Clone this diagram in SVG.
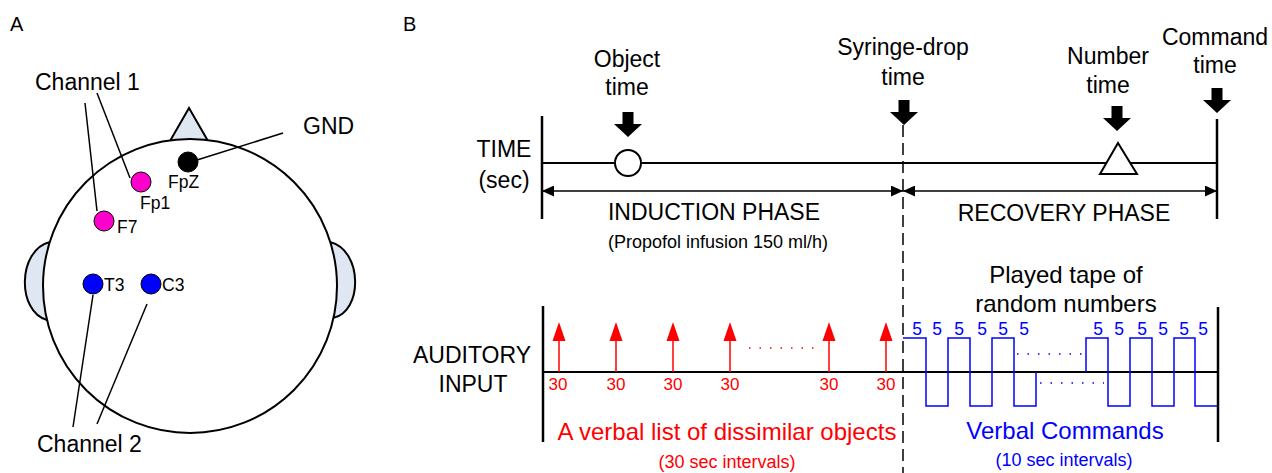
<svg xmlns="http://www.w3.org/2000/svg" width="1272" height="473" viewBox="0 0 1272 473">
<style>
text{font-family:"Liberation Sans",Arial,sans-serif;fill:#000}
.big{font-size:23px}
.big24{font-size:24px}
.sm{font-size:18px}
.n30{font-size:17px}
.lbl{font-size:17.5px}
.mid{text-anchor:middle}
.red{fill:#ff0000}
.blue{fill:#0000ff}
.ln{stroke:#000;fill:none}
.bar{stroke:#000;stroke-width:2.5;fill:none}
.ear{fill:#dfe7f3;stroke:#000;stroke-width:2}
</style>
<defs>
<path id="down" d="M-5.5,0 H5.5 V12 H14 L0,25 L-14,12 H-5.5 Z" fill="#000"/>
<marker id="ah" viewBox="0 0 12 11" refX="12" refY="5.5" markerWidth="12" markerHeight="11" markerUnits="userSpaceOnUse" orient="auto-start-reverse">
<path d="M0,0 L12,5.5 L0,11 Z" fill="#000"/>
</marker>
<g id="redarrow">
<line x1="0" y1="0" x2="0" y2="-32" stroke="#ff0000" stroke-width="1.5"/>
<polygon points="0,-50 6.5,-31 -6.5,-31" fill="#ff0000"/>
</g>
</defs>
<rect width="1272" height="473" fill="#fff"/>

<text x="10" y="31" style="font-size:20px">A</text>
<text x="403" y="31" style="font-size:20px">B</text>

<!-- Panel A: head -->
<g id="head">
<path class="ear" d="M50,242 C17,250 17,312 47,320"/>
<path class="ear" d="M330,242 C363,250 363,312 333,318"/>
<polygon class="ear" points="170,141 189,108 208,141"/>
<circle cx="190" cy="286" r="147" fill="#fff" stroke="#000" stroke-width="2"/>
</g>
<g id="electrode-FpZ">
<circle cx="188" cy="162" r="10" fill="#000" stroke="#000"/>
<text x="168" y="188" class="lbl">FpZ</text>
</g>
<g id="electrode-Fp1">
<circle cx="141" cy="182" r="10" fill="#ff00cc" stroke="#000"/>
<text x="140" y="209" class="lbl">Fp1</text>
</g>
<g id="electrode-F7">
<circle cx="104" cy="221" r="10" fill="#ff00cc" stroke="#000"/>
<text x="117" y="233" class="lbl">F7</text>
</g>
<g id="electrode-T3">
<circle cx="93" cy="284" r="10" fill="#0000ff" stroke="#000"/>
<text x="104" y="291" class="lbl">T3</text>
</g>
<g id="electrode-C3">
<circle cx="151" cy="284" r="10" fill="#0000ff" stroke="#000"/>
<text x="162" y="291" class="lbl">C3</text>
</g>
<g id="label-channel1"><text x="35" y="90" class="big">Channel 1</text></g>
<g id="label-gnd"><text x="303" y="134" class="big">GND</text></g>
<g id="label-channel2"><text x="37" y="452" class="big">Channel 2</text></g>

<g id="connectors-A" class="ln" stroke-width="1.5">
<line x1="85" y1="103" x2="97" y2="211"/>
<line x1="97" y1="93" x2="130" y2="178"/>
<line x1="283" y1="133" x2="197" y2="160"/>
<line x1="93" y1="295" x2="73" y2="427"/>
<line x1="147" y1="304" x2="97" y2="424"/>
</g>

<!-- Panel B: timeline -->
<g id="time-axis">
<line class="bar" x1="542" y1="116" x2="542" y2="219"/>
<line class="bar" x1="1217" y1="119" x2="1217" y2="219"/>
<line class="ln" stroke-width="2" x1="542" y1="163" x2="1217" y2="163"/>
<text x="504" y="157" class="big mid">TIME</text>
<text x="504" y="188" class="big mid">(sec)</text>
</g>
<g id="syringe-line">
<line x1="903" y1="125" x2="903" y2="473" stroke="#000" stroke-width="1.5" stroke-dasharray="12 6"/>
</g>
<g id="object-time">
<text x="627" y="67" class="big mid">Object</text>
<text x="627" y="95" class="big mid">time</text>
<use href="#down" x="628" y="112"/>
<circle cx="628" cy="163" r="13" fill="#fff" stroke="#000" stroke-width="2"/>
</g>
<g id="syringe-drop-time">
<text x="903" y="55" class="big mid">Syringe-drop</text>
<text x="903" y="85" class="big mid">time</text>
<use href="#down" x="904" y="100"/>
</g>
<g id="number-time">
<text x="1108" y="64" class="big mid">Number</text>
<text x="1108" y="93" class="big mid">time</text>
<use href="#down" x="1117" y="106"/>
<polygon points="1118,143 1137,174 1100,174" fill="#fff" stroke="#000" stroke-width="2"/>
</g>
<g id="command-time">
<text x="1215" y="45" class="big mid">Command</text>
<text x="1215" y="73" class="big mid">time</text>
<use href="#down" x="1217" y="88"/>
</g>
<g id="induction-phase">
<text x="714" y="220" class="big mid">INDUCTION PHASE</text>
<text x="718" y="248" class="sm mid">(Propofol infusion 150 ml/h)</text>
</g>
<g id="recovery-phase">
<text x="1064" y="221" class="big mid">RECOVERY PHASE</text>
</g>
<g id="connectors-B" class="ln" stroke-width="1.5">
<line x1="542" y1="191" x2="903" y2="191" marker-start="url(#ah)" marker-end="url(#ah)"/>
<line x1="903" y1="191" x2="1217" y2="191" marker-start="url(#ah)" marker-end="url(#ah)"/>
</g>

<!-- Auditory input -->
<g id="auditory-axis">
<line class="bar" x1="543" y1="306" x2="543" y2="442"/>
<line class="bar" x1="1218" y1="307" x2="1218" y2="442"/>
<line class="ln" stroke-width="2" x1="543" y1="372" x2="1218" y2="372"/>
<text x="472" y="363" class="big mid">AUDITORY</text>
<text x="473" y="392" class="big mid">INPUT</text>
</g>
<g id="object-list">
<use href="#redarrow" x="559" y="372"/>
<use href="#redarrow" x="616" y="372"/>
<use href="#redarrow" x="673" y="372"/>
<use href="#redarrow" x="730" y="372"/>
<use href="#redarrow" x="829" y="372"/>
<use href="#redarrow" x="886" y="372"/>
<line x1="749" y1="348" x2="815" y2="348" stroke="#ff0000" stroke-width="1.5" stroke-dasharray="1.5 9"/>
<text x="558" y="390" class="n30 mid red">30</text>
<text x="616" y="390" class="n30 mid red">30</text>
<text x="673" y="390" class="n30 mid red">30</text>
<text x="730" y="390" class="n30 mid red">30</text>
<text x="829" y="390" class="n30 mid red">30</text>
<text x="886" y="390" class="n30 mid red">30</text>
<text x="727" y="440" class="big24 mid red">A verbal list of dissimilar objects</text>
<text x="727" y="468" class="sm mid red">(30 sec intervals)</text>
</g>
<g id="verbal-commands">
<text x="1066" y="283" class="big24 mid">Played tape of</text>
<text x="1066" y="312" class="big24 mid">random numbers</text>
<path d="M903,338 H926 V406 H948 V338 H970 V406 H992 V338 H1014 V406 H1036 V372" fill="none" stroke="#0000ff" stroke-width="1.5"/>
<path d="M1086,372 V338 H1108 V406 H1130 V338 H1152 V406 H1174 V338 H1195 V406 H1217" fill="none" stroke="#0000ff" stroke-width="1.5"/>
<line x1="1017" y1="354" x2="1082" y2="354" stroke="#0000ff" stroke-width="1.5" stroke-dasharray="1.5 9"/>
<line x1="1040" y1="383" x2="1104" y2="383" stroke="#0000ff" stroke-width="1.5" stroke-dasharray="1.5 9"/>
<text x="917" y="335" class="lbl mid blue">5</text>
<text x="937" y="335" class="lbl mid blue">5</text>
<text x="959" y="335" class="lbl mid blue">5</text>
<text x="982" y="335" class="lbl mid blue">5</text>
<text x="1003" y="335" class="lbl mid blue">5</text>
<text x="1024" y="335" class="lbl mid blue">5</text>
<text x="1098" y="335" class="lbl mid blue">5</text>
<text x="1119" y="335" class="lbl mid blue">5</text>
<text x="1142" y="335" class="lbl mid blue">5</text>
<text x="1163" y="335" class="lbl mid blue">5</text>
<text x="1184" y="335" class="lbl mid blue">5</text>
<text x="1203" y="335" class="lbl mid blue">5</text>
<text x="1065" y="439" class="big24 mid blue">Verbal Commands</text>
<text x="1064" y="466" class="sm mid blue">(10 sec intervals)</text>
</g>
</svg>
